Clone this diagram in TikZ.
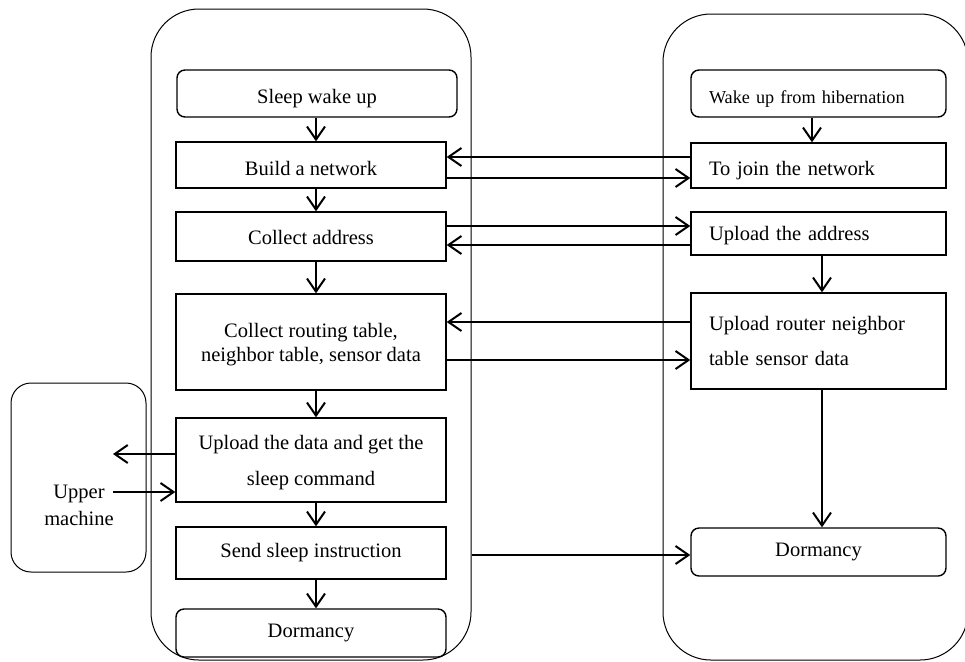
\documentclass[tikz,border=0pt]{standalone}
\usepackage{fontspec}
\setmainfont{Liberation Serif}
\usetikzlibrary{arrows.meta}

\begin{document}
\begin{tikzpicture}[x=0.5pt, y=-0.5pt,
    every node/.style={font=\fontsize{10.25}{12}\selectfont, inner sep=0pt},
    frame/.style={draw, line width=0.5pt, rounded corners=24pt},
    lbox/.style={draw, line width=0.7pt, minimum width=135pt, align=center},
    rbox/.style={draw, line width=0.7pt, text width=109.5pt, inner xsep=9pt, align=left},
    soft/.style={rounded corners=4pt},
    lift/.style={text height=#1, text depth=0pt},
    flow/.style={-{Straight Barb[length=6.5pt,width=9pt]}, line width=1pt}]
      \useasboundingbox (0,0) rectangle (965,661);
      % the three frames
      \node[frame, minimum width=160pt, minimum height=325.5pt] (lcol) at (311,334.5) {};
      \node[frame, minimum width=152.5pt, minimum height=323pt] (rcol) at (815.5,337) {};
      \node[frame, rounded corners=10pt, minimum width=67.5pt, minimum height=94.5pt] (host) at (78.5,477.5) {};
      % left column
      \node[lbox, soft, lift=10pt, minimum width=140pt, minimum height=23.5pt] (wakeL) at (317,93.5) {Sleep wake up};
      \node[lbox, lift=10pt, minimum height=23pt] (build) at (311,165) {Build a network};
      \node[lbox, lift=8pt, minimum height=24.5pt] (collect) at (311,236.5) {Collect address};
      \node[lbox, text depth=-2pt, minimum height=48pt] (routing) at (311,342) {Collect routing table,\\ neighbor table, sensor data};
      \node[lbox, text depth=-3.8pt, minimum height=42pt] (upload) at (311,460) {Upload the data and get the\\[6pt] sleep command};
      \node[lbox, minimum height=26pt] (send) at (311,553) {Send sleep instruction};
      \node[lbox, soft, minimum height=24pt] (dormL) at (311,633) {Dormancy};
      % right column
      \node[rbox, soft, lift=10pt, minimum height=23.5pt, font=\fontsize{9.1}{11}\selectfont] (wakeR) at (818.5,93.5) {Wake up from hibernation};
      \node[rbox, lift=10pt, minimum height=22.5pt] (join) at (818.5,165.5) {To join the network};
      \node[rbox, lift=7pt, minimum height=21.5pt] (uaddr) at (818.5,233.5) {Upload the address};
      \node[rbox, minimum height=48pt] (urouter) at (818.5,341) {Upload router neighbor\\[5.5pt] table sensor data};
      \node[lbox, soft, minimum width=127.5pt, minimum height=24pt] (dormR) at (818.5,552) {Dormancy};
      % upper machine
      \node[align=center, font=\fontsize{10.25}{13.5}\selectfont] (upper) at (79,505) {Upper\\ machine};
      \coordinate (upout) at (113,454);
      \coordinate (upin) at (113,492);
      % arrows down the columns
      \foreach \a/\b in {wakeL/build, build/collect, collect/routing, routing/upload, upload/send, send/dormL}
      \draw[flow] (\a.south -| 316,0) -- (\b.north -| 316,0);
      \draw[flow] (wakeR.south -| 812,0) -- (join.north -| 812,0);
      \draw[flow] (uaddr.south -| 822,0) -- (urouter.north -| 822,0);
      \draw[flow] (urouter.south -| 822,0) -- (dormR.north -| 822,0);
      % arrows between the columns
      \draw[flow] (join.west |- 0,157) -- (build.east |- 0,157);
      \draw[flow] (build.east |- 0,178) -- (join.west |- 0,178);
      \draw[flow] (collect.east |- 0,226) -- (uaddr.west |- 0,226);
      \draw[flow] (uaddr.west |- 0,245) -- (collect.east |- 0,245);
      \draw[flow] (urouter.west |- 0,322) -- (routing.east |- 0,322);
      \draw[flow] (routing.east |- 0,360) -- (urouter.west |- 0,360);
      \draw[flow] (lcol.east |- 0,555) -- (dormR.west |- 0,555);
      % to and from the upper machine
      \draw[flow] (upload.west |- upout) -- (upout);
      \draw[flow] (upin) -- (upload.west |- upin);
    \end{tikzpicture}
\end{document}
